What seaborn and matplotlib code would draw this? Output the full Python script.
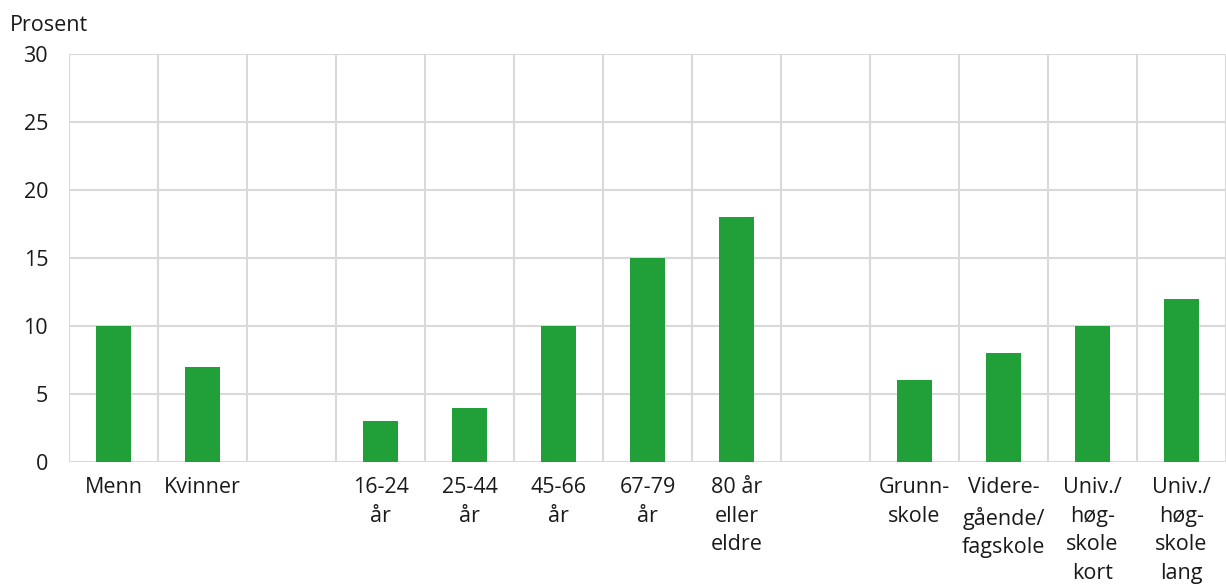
import numpy as np
import pandas as pd
import matplotlib
matplotlib.use("Agg")
import matplotlib.pyplot as plt
import seaborn as sns

# slot keys (blank slots separate the groups)
categories = ["Menn", "Kvinner", "gap1", "16-24", "25-44", "45-66", "67-79", "80+",
              "gap2", "Grunnskole", "Videregående", "Univ kort", "Univ lang"]
tick_labels = ["Menn", "Kvinner", "", "16-24\når", "25-44\når", "45-66\når", "67-79\når",
               "80 år\neller\neldre", "", "Grunn-\nskole", "Videre-\ngående/\nfagskole",
               "Univ./\nhøg-\nskole\nkort", "Univ./\nhøg-\nskole\nlang"]
values = [10, 7, np.nan, 3, 4, 10, 15, 18, np.nan, 6, 8, 10, 12]

BAR = "#21a03a"
GRID = "#d9d9d9"
TXT = "#1a1a1a"
FS = 15.5

sns.set_theme(style="white")
plt.rcParams["font.family"] = ["Open Sans", "DejaVu Sans"]

df = pd.DataFrame({"cat": categories, "val": values})

fig = plt.figure(figsize=(12.26, 5.84), dpi=100)
ax = fig.add_axes([69 / 1226, 1 - 462 / 584, 1 - 69 / 1226, (462 - 54) / 584])

sns.barplot(data=df, x="cat", y="val", order=categories, color=BAR,
            width=0.4, saturation=1, linewidth=0, ax=ax, zorder=3)

ax.set_ylim(0, 30)
ax.set_xlim(-0.5, (1226 - 69) / 89.7 - 0.5)
ax.set_yticks(range(0, 31, 5))
ax.set_xticks(range(len(categories)))
ax.set_xticklabels(tick_labels, fontsize=FS, color=TXT, linespacing=1.47, va="top")
ax.tick_params(axis="y", labelsize=FS, labelcolor=TXT, length=0, pad=15)
ax.tick_params(axis="x", length=0, pad=11)

ax.set_xticks(np.arange(-0.5, len(categories), 1), minor=True)
ax.tick_params(axis="x", which="minor", length=0)
ax.grid(False)
ax.grid(True, axis="y", which="major", color=GRID, linewidth=1.5, zorder=0)
ax.grid(True, axis="x", which="minor", color=GRID, linewidth=1.5, zorder=0)
for s in ax.spines.values():
    s.set_visible(False)
ax.set_xlabel("")
ax.set_ylabel("")

fig.text(10 / 1226, 1 - 15 / 584, "Prosent", fontsize=FS, color=TXT,
         ha="left", va="top")

fig.savefig("out.png", dpi=100)
